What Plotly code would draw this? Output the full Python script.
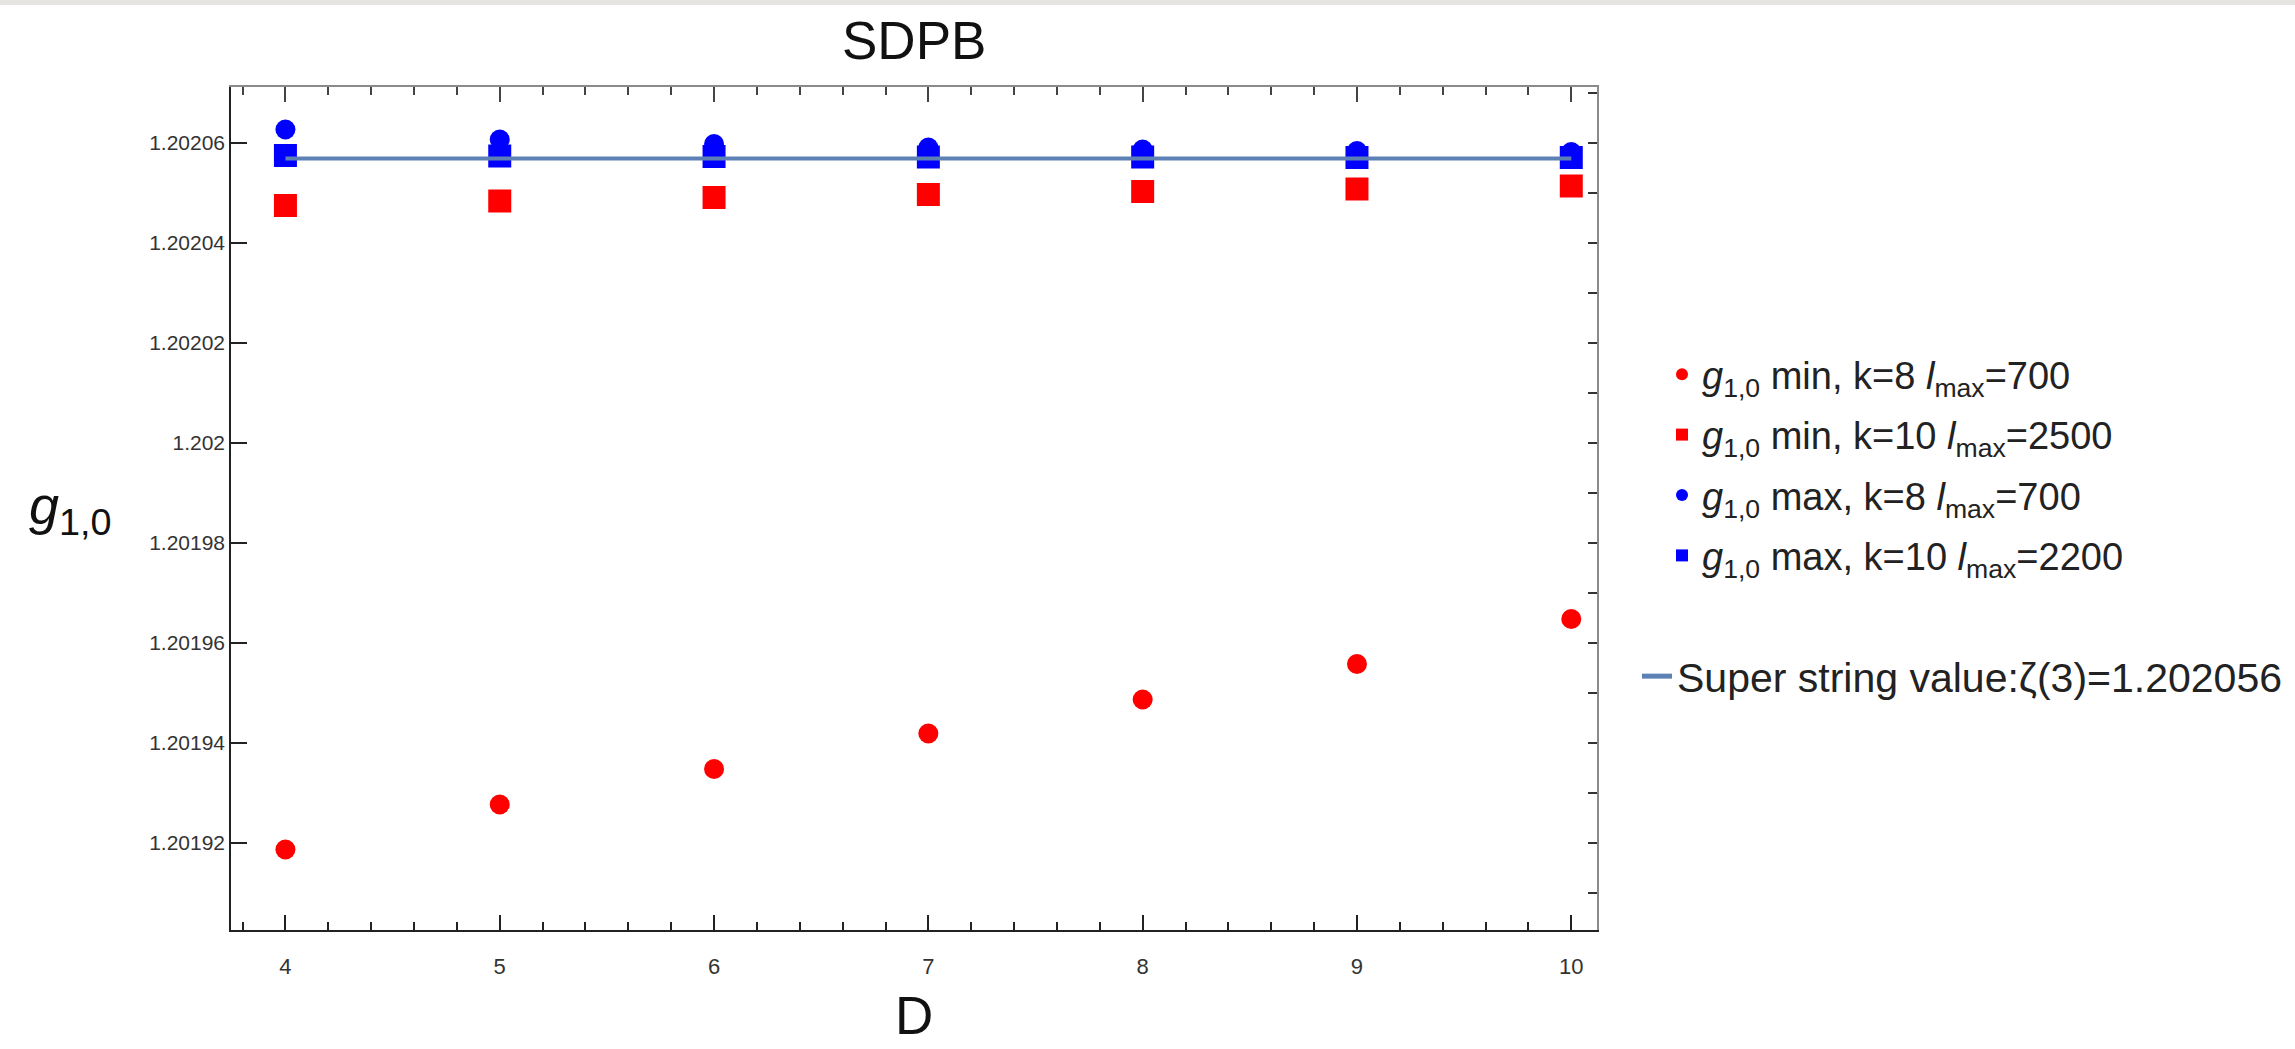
import plotly.graph_objects as go

# ---------------- data ----------------
D = [4, 5, 6, 7, 8, 9, 10]
g_min_k8 = [1.2019187, 1.2019277, 1.2019348, 1.2019419, 1.2019487, 1.2019558, 1.2019648]
g_min_k10 = [1.2020475, 1.2020484, 1.2020491, 1.2020497, 1.2020503, 1.2020508, 1.2020514]
g_max_k8 = [1.2020627, 1.2020607, 1.2020598, 1.2020591, 1.2020587, 1.2020584, 1.2020582]
g_max_k10 = [1.2020575, 1.2020574, 1.2020573, 1.2020572, 1.2020572, 1.2020571, 1.2020571]
line_D = [4, 10]
zeta3_line = [1.2020569, 1.2020569]

y_tickvals = [1.20192, 1.20194, 1.20196, 1.20198, 1.20200, 1.20202, 1.20204, 1.20206]
y_ticktext = ["1.20192", "1.20194", "1.20196", "1.20198", "1.202", "1.20202", "1.20204", "1.20206"]
y_minor_vals = [1.20191, 1.20192, 1.20193, 1.20194, 1.20195, 1.20196, 1.20197, 1.20198,
                1.20199, 1.20200, 1.20201, 1.20202, 1.20203, 1.20204, 1.20205, 1.20206, 1.20207]
x_range = [3.746, 10.12]
y_range = [1.2019026, 1.2020712]

names = [
    "<i>g</i><sub>1,0</sub> min, k=8 <i>l</i><sub>max</sub>=700",
    "<i>g</i><sub>1,0</sub> min, k=10 <i>l</i><sub>max</sub>=2500",
    "<i>g</i><sub>1,0</sub> max, k=8 <i>l</i><sub>max</sub>=700",
    "<i>g</i><sub>1,0</sub> max, k=10 <i>l</i><sub>max</sub>=2200",
    "Super string value:\u03b6(3)=1.202056",
]

FONT = "Liberation Sans, Arial, sans-serif"
RED = "#FF0000"
BLUE = "#0000FF"
LINE = "#5E81B5"

fig = go.Figure()
fig.add_trace(go.Scatter(x=D, y=g_min_k8, mode="markers", name=names[0], legendgroup="a",
                         marker=dict(symbol="circle", size=20, color=RED)))
fig.add_trace(go.Scatter(x=D, y=g_min_k10, mode="markers", name=names[1], legendgroup="b",
                         marker=dict(symbol="square", size=23, color=RED)))
fig.add_trace(go.Scatter(x=D, y=g_max_k8, mode="markers", name=names[2], legendgroup="c",
                         marker=dict(symbol="circle", size=20, color=BLUE)))
fig.add_trace(go.Scatter(x=D, y=g_max_k10, mode="markers", name=names[3], legendgroup="d",
                         marker=dict(symbol="square", size=23, color=BLUE)))
fig.add_trace(go.Scatter(x=line_D, y=zeta3_line, mode="lines", name=names[4], legend="legend2",
                         line=dict(color=LINE, width=4)))
# dummy trace for the frame axes (top / right)
fig.add_trace(go.Scatter(x=[None], y=[None], xaxis="x2", yaxis="y2", showlegend=False,
                         hoverinfo="skip", mode="markers"))

L, R, T, B = 231, 698, 87, 119
W, H = 2295, 1049
plot_h = H - T - B
plot_w = W - L - R

LEG_FONT = dict(size=38, family=FONT, color="#222")
LEG2_FONT = dict(size=41, family=FONT, color="#222")

fig.update_layout(
    width=W, height=H,
    margin=dict(l=L, r=R, t=T, b=B),
    paper_bgcolor="white", plot_bgcolor="white",
    font=dict(family=FONT, color="#222"),
    showlegend=True,
    legend=dict(
        xref="container", yref="container",
        x=1662 / W, y=1 - 343 / H, xanchor="left", yanchor="top",
        font=LEG_FONT,
        traceorder="grouped", tracegroupgap=8, itemsizing="constant",
        bgcolor="rgba(0,0,0,0)",
    ),
    legend2=dict(
        xref="container", yref="container",
        x=1637 / W, y=1 - 643 / H, xanchor="left", yanchor="top",
        font=LEG2_FONT, itemsizing="constant",
        bgcolor="rgba(0,0,0,0)",
    ),
    xaxis=dict(
        range=x_range, tickmode="array", tickvals=D, ticktext=[str(d) for d in D],
        ticks="inside", ticklen=15, tickwidth=1.5, tickcolor="#222",
        showline=True, linecolor="#222", linewidth=1.5,
        showgrid=False, zeroline=False,
        tickfont=dict(size=22, color="#333", family=FONT),
        minor=dict(ticks="inside", tick0=4, dtick=0.2, ticklen=8, tickwidth=1.5,
                   tickcolor="#222", showgrid=False),
        ticklabelstandoff=16,
    ),
    yaxis=dict(
        range=y_range, tickmode="array", tickvals=y_tickvals, ticktext=y_ticktext,
        ticks="inside", ticklen=16, tickwidth=1.5, tickcolor="#222",
        showline=True, linecolor="#222", linewidth=1.5,
        showgrid=False, zeroline=False,
        tickfont=dict(size=21, color="#333", family=FONT),
    ),
    xaxis2=dict(
        overlaying="x", side="top", anchor="y2", range=x_range,
        tickmode="array", tickvals=D, showticklabels=False,
        ticks="inside", ticklen=15, tickwidth=1.5, tickcolor="#444",
        showline=True, linecolor="#8a8a8a", linewidth=2,
        showgrid=False, zeroline=False,
        minor=dict(ticks="inside", tick0=4, dtick=0.2, ticklen=8, tickwidth=1.5,
                   tickcolor="#444", showgrid=False),
    ),
    yaxis2=dict(
        overlaying="y", side="right", anchor="x2", range=y_range,
        tickmode="array", tickvals=y_minor_vals, showticklabels=False,
        ticks="inside", ticklen=9, tickwidth=1.5, tickcolor="#333",
        showline=True, linecolor="#8a8a8a", linewidth=2,
        showgrid=False, zeroline=False,
    ),
    annotations=[
        dict(text="SDPB", xref="paper", yref="paper", x=0.5, y=1 + (T - 40) / plot_h,
             xanchor="center", yanchor="middle", showarrow=False,
             font=dict(size=53, family=FONT, color="#111")),
        dict(text="D", xref="paper", yref="paper", x=0.5, y=-(1016 - (H - B)) / plot_h,
             xanchor="center", yanchor="middle", showarrow=False,
             font=dict(size=53, family=FONT, color="#111")),
        dict(text="<i>g</i><sub>1,0</sub>", xref="paper", yref="paper",
             x=(27 - L) / plot_w, y=0.5, xanchor="left", yanchor="middle", showarrow=False,
             font=dict(size=54, family=FONT, color="#111")),
    ],
    shapes=[
        dict(type="rect", xref="paper", yref="paper", x0=-L / plot_w, x1=(W - L) / plot_w,
             y0=1 + (T - 5) / plot_h, y1=1 + T / plot_h, fillcolor="#E6E4E0",
             line=dict(width=0), layer="below"),
    ],
)

fig.write_html("out.html")
